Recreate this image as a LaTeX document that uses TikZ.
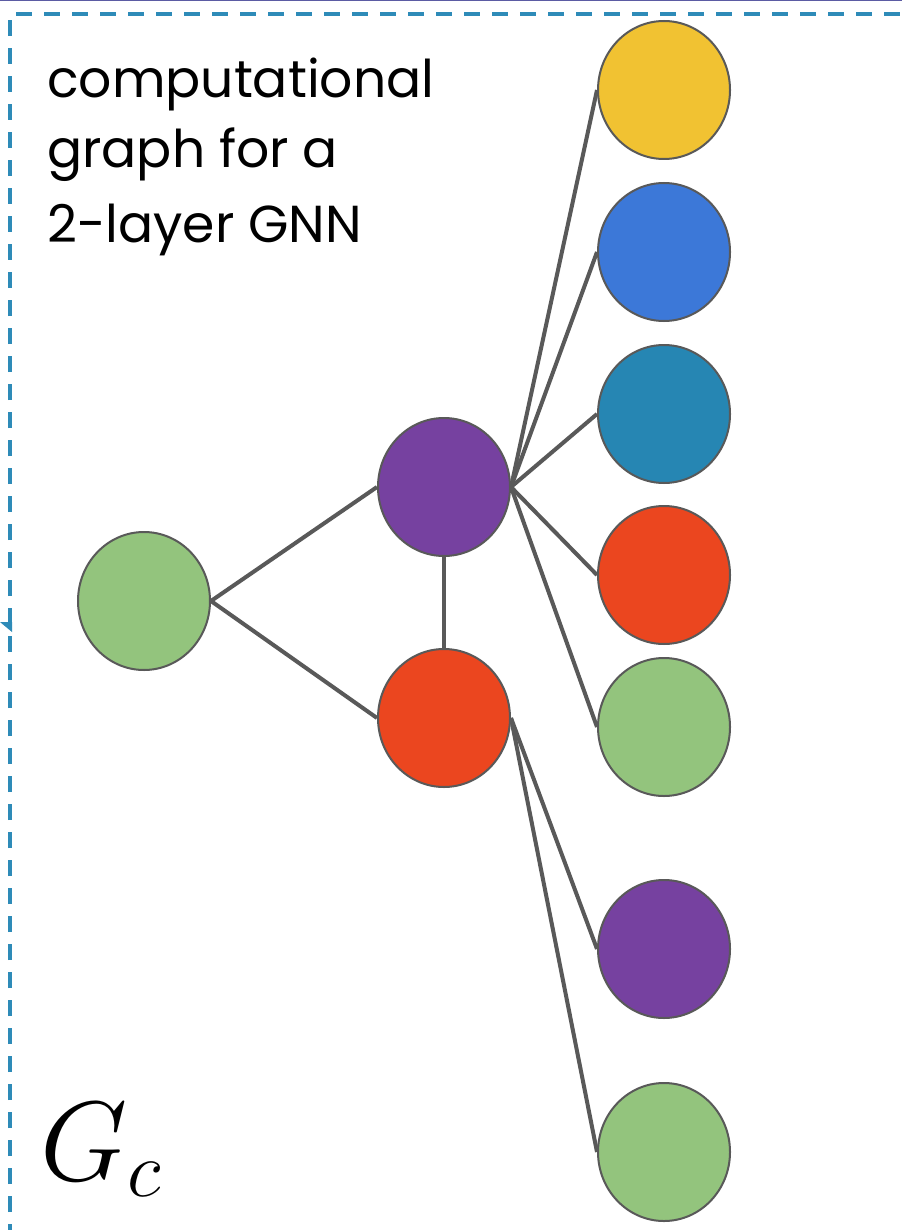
\RequirePackage{fix-cm}
\documentclass[tikz,border=0pt]{standalone}
\usepackage{fontspec}
\setmainfont{Poppins}
\usetikzlibrary{shapes.geometric}
\definecolor{cYellow}{HTML}{F1C232}
\definecolor{cBlue}{HTML}{3C78D8}
\definecolor{cTeal}{HTML}{2686B3}
\definecolor{cRed}{HTML}{EB461F}
\definecolor{cGreen}{HTML}{93C47D}
\definecolor{cPurple}{HTML}{7641A0}
\definecolor{cEdge}{HTML}{595959}
\definecolor{cBorder}{HTML}{2E8BB8}
\definecolor{cTop}{HTML}{5B5BA3}
\tikzset{
  gnode/.style={ellipse, draw=cEdge, line width=2pt, minimum width=132pt, minimum height=138pt, inner sep=0pt},
  gedge/.style={draw=cEdge, line width=4pt},
  lbl/.style={anchor=base west, inner sep=0pt, font=\fontsize{52}{60}\selectfont}
}
\begin{document}
\begin{tikzpicture}[x=1pt,y=1pt]
\useasboundingbox (0,0) rectangle (902,-1230);
\fill[white] (0,0) rectangle (902,-1230);
% top rule
\draw[cTop, line width=2pt] (0,-0.5) -- (902,-0.5);
% dashed frame
\draw[cBorder, line width=4pt, dash pattern=on 16pt off 12pt] (10,-1240) -- (10,-14) -- (910,-14);
\fill[cBorder] (0,-622) -- (12,-622) -- (12,-632) -- cycle;
% text
\node[lbl] (t1) at (47,-98) {computational};
\node[lbl] (t2) at (47,-168) {graph for a};
\node[lbl] (t3) at (47,-243) {2-layer GNN};
\node[anchor=base west, inner sep=0pt, font=\fontsize{113}{118}\selectfont] (gc) at (40,-1180) {$G_c$};
% nodes
\node[gnode, fill=cGreen] (g0) at (144,-601) {};
\node[gnode, fill=cPurple] (pm) at (444,-487) {};
\node[gnode, fill=cRed] (rm) at (444,-718) {};
\node[gnode, fill=cYellow] (r1) at (664,-90) {};
\node[gnode, fill=cBlue] (r2) at (664,-252) {};
\node[gnode, fill=cTeal] (r3) at (664,-414) {};
\node[gnode, fill=cRed] (r4) at (664,-575) {};
\node[gnode, fill=cGreen] (r5) at (664,-727) {};
\node[gnode, fill=cPurple] (r6) at (664,-949) {};
\node[gnode, fill=cGreen] (r7) at (664,-1152) {};
% edges
\path[gedge] (g0.east) -- (pm.west);
\path[gedge] (g0.east) -- (rm.west);
\path[gedge] (pm.south) -- (rm.north);
\foreach \r in {r1,r2,r3,r4,r5}{\path[gedge] (pm.east) -- (\r.west);}
\foreach \r in {r6,r7}{\path[gedge] (rm.east) -- (\r.west);}
\end{tikzpicture}
\end{document}
